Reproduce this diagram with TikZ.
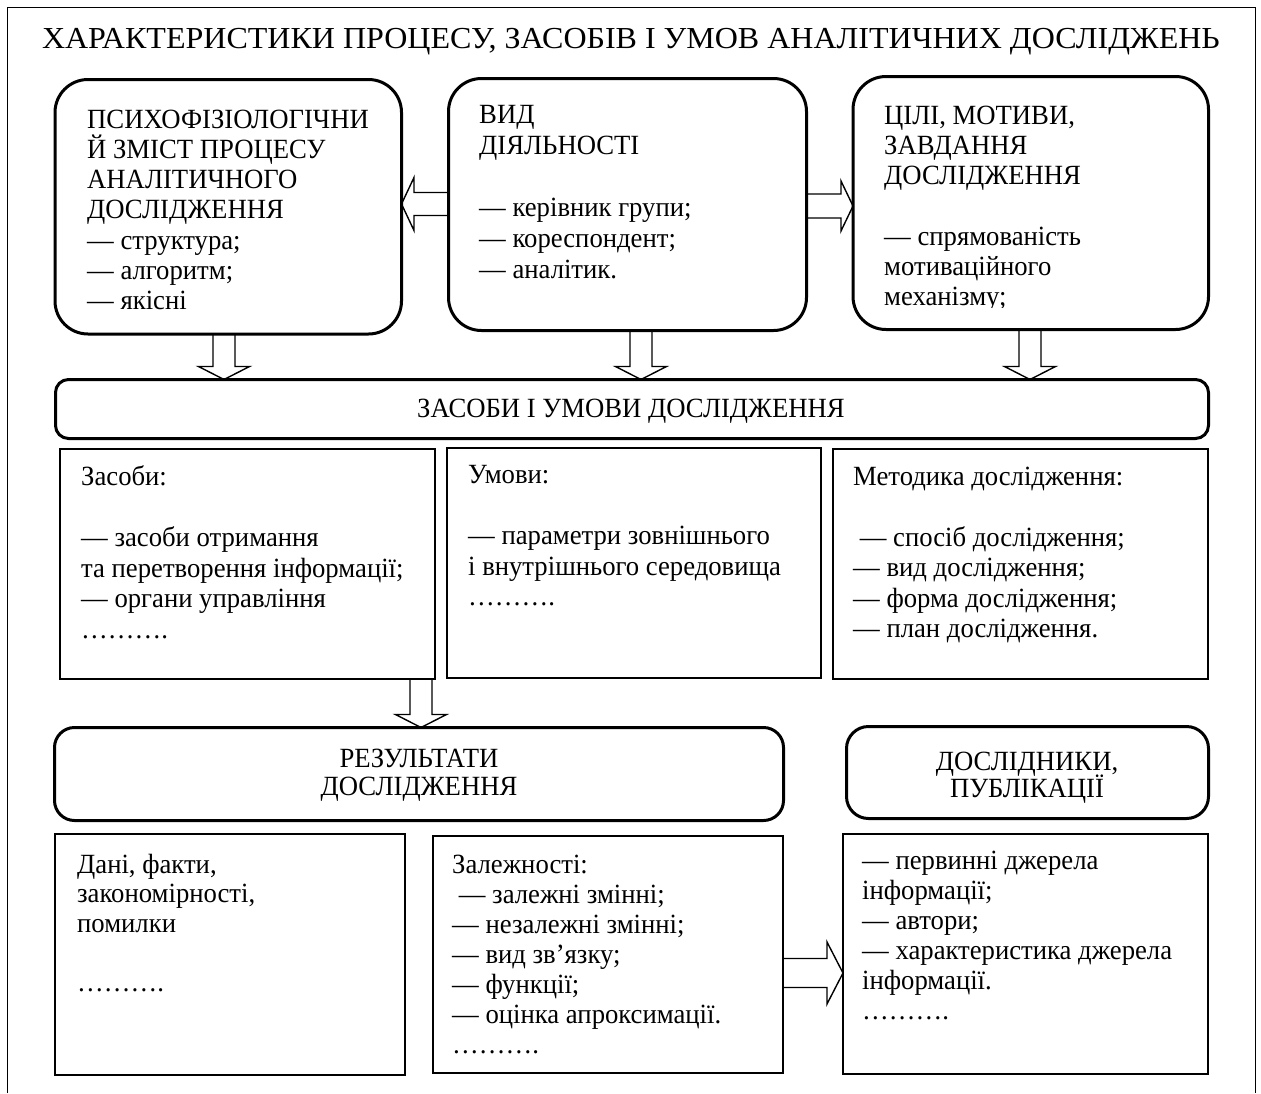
\documentclass[tikz,border=0pt]{standalone}
\usepackage{fontspec}
\setmainfont{Liberation Serif}
\newfontfamily\bodyf[FakeStretch=0.96]{Liberation Serif}
\newfontfamily\titlef[FakeStretch=1.05]{Liberation Serif}
\usetikzlibrary{calc}
\tikzset{
  x=1pt, y=-1pt,
  rbox/.style={draw, line width=3pt, rounded corners=#1, inner sep=0pt, outer sep=0pt},
  sbox/.style={draw, line width=2.6pt, inner sep=0pt, outer sep=0pt},
  arr/.style={draw, line width=1.4pt, line join=miter},
  frame/.style={draw, line width=1.6pt},
  txt/.style={anchor=base west, inner sep=0pt, font=\bodyf\fontsize{27.8}{30.5}\selectfont},
  ttl/.style={anchor=base, inner sep=0pt, font=\titlef\fontsize{30.5}{34}\selectfont},
}
\newcommand\mkbox[6]{\node[#1, anchor=north west, minimum width={#4pt-#2pt}, minimum height={#5pt-#3pt}] (#6) at (#2,#3) {};}
\newcommand\lns[2][30.5pt]{\vtop{\baselineskip=#1\lineskiplimit=-100pt\relax #2}}
\newcommand\li[1]{\hbox{#1}}
\newcommand\ci[1]{\hbox to 0pt{\hss#1\hss}}
\newcommand\adown[2]{\draw[arr] let \p1=(#1), \p2=(#2) in
  (\x1-11pt,\y1) -- (\x1-11pt,\y2+13pt) -- (\x1-25.5pt,\y2+13pt) -- (\x1,\y2)
  -- (\x1+25.5pt,\y2+13pt) -- (\x1+11pt,\y2+13pt) -- (\x1+11pt,\y1);}
\newcommand\aright[5]{\draw[arr] let \p1=(#1), \p2=(#2) in
  (\x1,\y1+#3) -- (\x2-#5,\y1+#3) -- (\x2-#5,\y1+#4) -- (\x2,\y1)
  -- (\x2-#5,\y1-#4) -- (\x2-#5,\y1-#3) -- (\x1,\y1-#3);}
\newcommand\aleft[5]{\draw[arr] let \p1=(#1), \p2=(#2) in
  (\x1,\y1+#3) -- (\x2+#5,\y1+#3) -- (\x2+#5,\y1+#4) -- (\x2,\y1)
  -- (\x2+#5,\y1-#4) -- (\x2+#5,\y1-#3) -- (\x1,\y1-#3);}
\begin{document}
\begin{tikzpicture}
\useasboundingbox[fill=white] (0,0) rectangle (1261,1093);
% outer frame (open at the bottom)
\draw[frame] (7.5,1093) -- (7.5,7.5) -- (1255.5,7.5) -- (1255.5,1093);
\node[ttl] (title) at (631,48) {ХАРАКТЕРИСТИКИ ПРОЦЕСУ, ЗАСОБІВ І УМОВ АНАЛІТИЧНИХ ДОСЛІДЖЕНЬ};

% boxes
\mkbox{rbox=33pt}{55}{79.5}{401.5}{334}{tl}
\mkbox{rbox=33pt}{448.5}{78.5}{806.5}{330.5}{tm}
\mkbox{rbox=33pt}{853}{76.5}{1208.5}{329.5}{tr}
\mkbox{rbox=13pt}{55.5}{379.5}{1208.5}{438.5}{zas}
\mkbox{sbox}{60}{449}{435}{679}{b1}
\mkbox{sbox}{447}{448}{821}{678}{b2}
\mkbox{sbox}{833}{449}{1208}{679}{b3}
\mkbox{rbox=20pt}{54.5}{727.5}{783.5}{820.5}{res}
\mkbox{rbox=22pt}{846.5}{726.5}{1208.5}{818.5}{dos}
\mkbox{sbox}{55}{834}{405}{1075}{d1}
\mkbox{sbox}{433}{836}{783}{1073}{d2}
\mkbox{sbox}{843}{834}{1208}{1074}{d3}

% texts
\node[txt] (ttl1) at (87,128) {\lns[30.3pt]{\li{ПСИХОФІЗІОЛОГІЧНИ}\li{Й ЗМІСТ ПРОЦЕСУ}\li{АНАЛІТИЧНОГО}\li{ДОСЛІДЖЕННЯ}\li{— структура;}\li{— алгоритм;}\li{— якісні}}};
\node[txt] (ttm) at (479,123) {\lns[31pt]{\li{ВИД}\li{ДІЯЛЬНОСТІ}\li{}\li{— керівник групи;}\li{— кореспондент;}\li{— аналітик.}}};
\begin{scope}
\clip (853,76.5) rectangle (1208.5,307);
\node[txt] (ttr) at (884,124) {\lns[30.3pt]{\li{ЦІЛІ, МОТИВИ,}\li{ЗАВДАННЯ}\li{ДОСЛІДЖЕННЯ}\li{}\li{— спрямованість}\li{мотиваційного}\li{механізму;}}};
\end{scope}
\node[txt, anchor=base] (tzas) at (631,417) {ЗАСОБИ І УМОВИ ДОСЛІДЖЕННЯ};
\node[txt] (tb1) at (81,485) {\lns[30.7pt]{\li{Засоби:}\li{}\li{— засоби отримання}\li{та перетворення інформації;}\li{— органи управління}\li{……….}}};
\node[txt] (tb2) at (468,483) {\lns[30.7pt]{\li{Умови:}\li{}\li{— параметри зовнішнього}\li{і внутрішнього середовища}\li{……….}}};
\node[txt] (tb3) at (853,485) {\lns[30.5pt]{\li{Методика дослідження:}\li{}\li{\ — спосіб дослідження;}\li{— вид дослідження;}\li{— форма дослідження;}\li{— план дослідження.}}};
\node[txt, anchor=base] (tres) at (419,767) {\lns[28pt]{\ci{РЕЗУЛЬТАТИ}\ci{ДОСЛІДЖЕННЯ}}};
\node[txt, anchor=base] (tdos) at (1027,770) {\lns[27.5pt]{\ci{ДОСЛІДНИКИ,}\ci{ПУБЛІКАЦІЇ}}};
\node[txt] (td1) at (77,873) {\lns[29.5pt]{\li{Дані, факти,}\li{закономірності,}\li{помилки}\li{}\li{……….}}};
\node[txt] (td2) at (452,873) {\lns[30pt]{\li{Залежності:}\li{\ — залежні змінні;}\li{— незалежні змінні;}\li{— вид зв’язку;}\li{— функції;}\li{— оцінка апроксимації.}\li{……….}}};
\node[txt] (td3) at (862,869) {\lns[30pt]{\li{— первинні джерела}\li{інформації;}\li{— автори;}\li{— характеристика джерела}\li{інформації.}\li{……….}}};

% block arrows
\coordinate (ya) at (0,204);
\coordinate (yb) at (0,206);
\coordinate (yc) at (0,973);
\coordinate (xa) at (224,0);
\coordinate (xb) at (641,0);
\coordinate (xc) at (1030,0);
\coordinate (xd) at (421,0);
\aleft{tm.west |- ya}{tl.east |- ya}{11.5pt}{26.5pt}{12.5pt}
\aright{tm.east |- yb}{tr.west |- yb}{12pt}{25pt}{12pt}
\aright{d2.east |- yc}{d3.west |- yc}{14.5pt}{31pt}{16pt}
\adown{xa |- tl.south}{xa |- zas.north}
\adown{xb |- tm.south}{xb |- zas.north}
\adown{xc |- tr.south}{xc |- zas.north}
\adown{xd |- b1.south}{xd |- res.north}
\end{tikzpicture}
\end{document}
